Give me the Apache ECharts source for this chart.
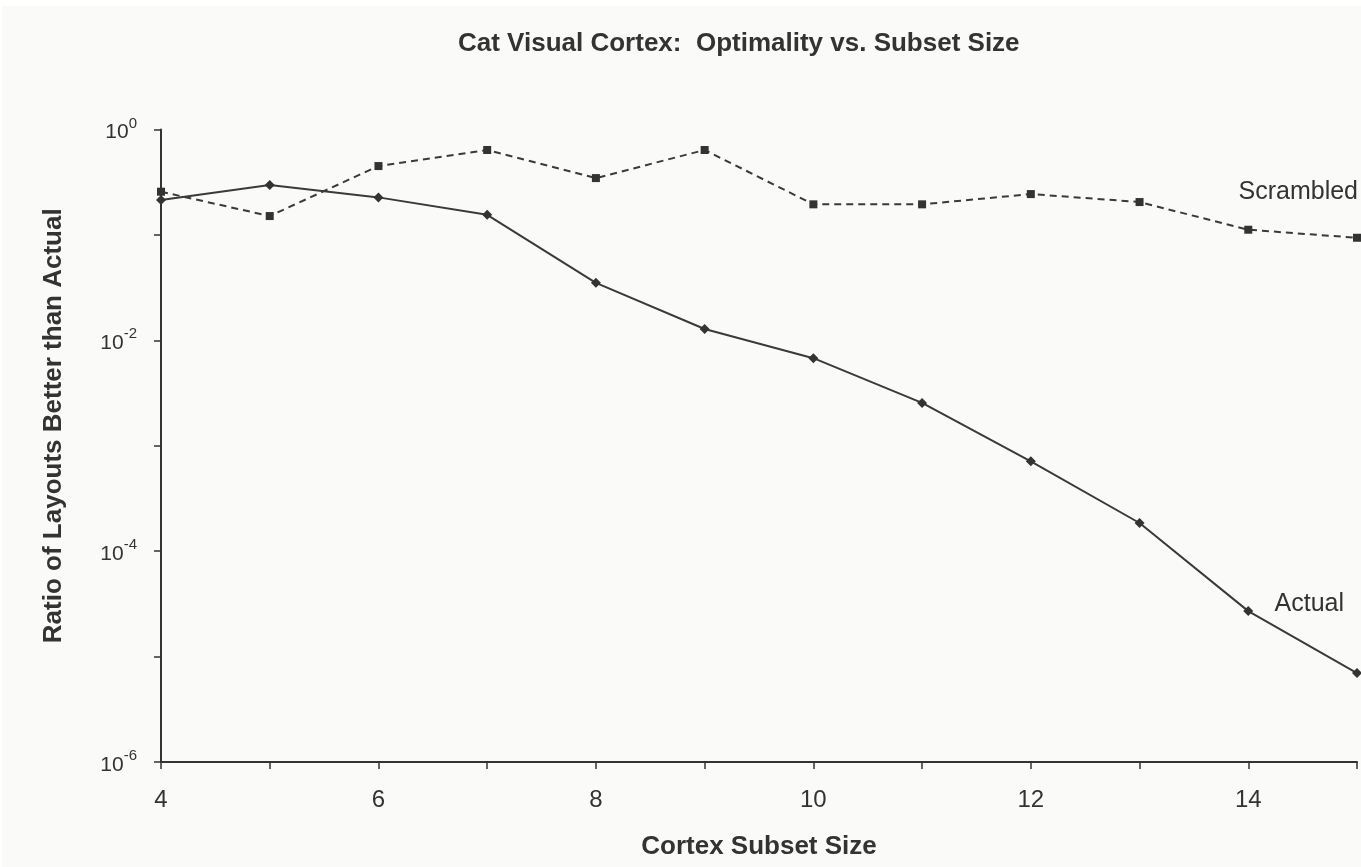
<!DOCTYPE html>
<html>
<head>
<meta charset="utf-8">
<script src="https://cdn.jsdelivr.net/npm/echarts@6/dist/echarts.min.js"></script>
<style>
html,body{margin:0;padding:0;background:#ffffff;}
#chart{position:absolute;left:2px;top:6px;width:1359px;height:861px;}
</style>
</head>
<body>
<div id="chart"></div>
<script>
const subsetSizes = [4,5,6,7,8,9,10,11,12,13,14,15];
const actual = [0.214,0.297,0.227,0.155,0.0351,0.0128,0.00677,0.00255,0.000712,0.000185,0.000027,0.00000697];
const scrambled = [0.257,0.151,0.450,0.639,0.346,0.639,0.195,0.195,0.244,0.205,0.112,0.094];
const xTickLabels = ['4','6','8','10','12','14'];
const yTickExponents = [0,-2,-4,-6];
const titleText = 'Cat Visual Cortex:  Optimality vs. Subset Size';
const xTitle = 'Cortex Subset Size';
const yTitle = 'Ratio of Layouts Better than Actual';
const seriesNames = ['Actual','Scrambled'];

const C = '#333333';
const FONT = '"Liberation Sans", Arial, sans-serif';

function pairs(vals, name, labelIdx, off){
  return subsetSizes.map((x,i)=>{
    const d = {value:[x, vals[i]]};
    if(i===labelIdx){
      d.label = {show:true, formatter:name, position:'inside', offset:off,
        color:C, fontSize:25, fontFamily:FONT};
    }
    return d;
  });
}

const chart = echarts.init(document.getElementById('chart'), null, {renderer:'canvas'});
chart.setOption({
  backgroundColor:'#fafaf8',
  animation:false,
  title:{text:titleText, left:451, top:20,
    textStyle:{fontFamily:FONT, fontWeight:'bold', fontSize:26, color:C}},
  grid:{left:159, right:4, top:123.5, bottom:105, containLabel:false},
  xAxis:{type:'value', min:4, max:15, interval:1,
    name:xTitle, nameLocation:'middle', nameGap:72,
    nameTextStyle:{fontFamily:FONT, fontWeight:'bold', fontSize:26, color:C},
    axisLine:{onZero:false, lineStyle:{color:C, width:2}},
    axisTick:{show:true, length:7, lineStyle:{color:C, width:1.5}},
    axisLabel:{color:C, fontSize:24, fontFamily:FONT, margin:26,
      formatter:v=> xTickLabels.indexOf(String(v))>=0 ? String(v) : ''},
    splitLine:{show:false}},
  yAxis:{type:'log', logBase:10, min:1e-6, max:1, interval:1,
    name:yTitle, nameLocation:'middle', nameGap:94, nameRotate:90,
    nameTextStyle:{fontFamily:FONT, fontWeight:'bold', fontSize:26, color:C, padding:[0,0,0,40]},
    axisLine:{lineStyle:{color:C, width:2}},
    axisTick:{show:true, length:7, lineStyle:{color:C, width:1.5}},
    axisLabel:{color:C, fontFamily:FONT, margin:24,
      formatter:v=>{
        const e = Math.round(Math.log10(v));
        return yTickExponents.indexOf(e)>=0 ? '{b|10}{s|'+e+'}' : '';
      },
      rich:{b:{fontSize:21, color:C, fontFamily:FONT, verticalAlign:'bottom', padding:[6,0,0,0]},
            s:{fontSize:15, color:C, fontFamily:FONT, verticalAlign:'top', padding:[0,0,12,0]}}},
    splitLine:{show:false}},
  series:[
    {name:seriesNames[0], type:'line', data:pairs(actual, seriesNames[0], 10, [61,-7]),
      symbol:'diamond', symbolSize:10, showSymbol:true,
      lineStyle:{color:'#3a3a3a', width:2}, itemStyle:{color:C}},
    {name:seriesNames[1], type:'line', data:pairs(scrambled, seriesNames[1], 10, [50,-38]),
      symbol:'rect', symbolSize:8, showSymbol:true,
      lineStyle:{color:'#3a3a3a', width:2, type:[7,5]}, itemStyle:{color:C}}
  ]
});
</script>
</body>
</html>
